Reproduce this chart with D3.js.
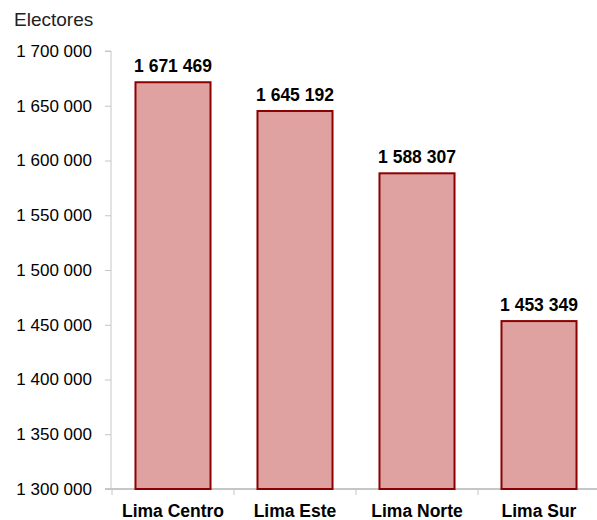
<!DOCTYPE html>
<html>
<head>
<meta charset="utf-8">
<script src="https://cdn.jsdelivr.net/npm/d3@7"></script>
<style>
  body { margin: 0; background: #fff; }
  svg { display: block; font-family: "Liberation Sans", Arial, sans-serif; }
</style>
</head>
<body>
<div id="chart"></div>
<script>
// Electores por zona de Lima
const categories = ['Lima Centro', 'Lima Este', 'Lima Norte', 'Lima Sur'];
const values = [1671469, 1645192, 1588307, 1453349];
const yTicks = [1300000, 1350000, 1400000, 1450000, 1500000, 1550000, 1600000, 1650000, 1700000];

const W = 597, H = 520;
const fmt = v => d3.format(',')(v).replace(/,/g, ' ');

const svg = d3.select('#chart').append('svg')
  .attr('width', W).attr('height', H);

const x = d3.scaleBand()
  .domain(categories)
  .range([112, 600])
  .paddingInner(0.385)
  .paddingOuter(0.1925);

const y = d3.scaleLinear()
  .domain([1300000, 1700000])
  .range([489, 51]);

// Y axis
const yAxis = svg.append('g')
  .attr('transform', 'translate(111,0)')
  .call(d3.axisLeft(y).tickValues(yTicks).tickSize(6).tickPadding(13).tickFormat(fmt));
yAxis.select('.domain').attr('stroke', '#c6c6c6').attr('d', 'M-6,51H0V489');
yAxis.selectAll('.tick line').attr('stroke', '#c6c6c6');
yAxis.selectAll('.tick text')
  .style('font-size', '17px')
  .attr('fill', '#000');

// X axis line and band separators
const xAxis = svg.append('g').attr('transform', 'translate(0,489)');
xAxis.append('line')
  .attr('x1', 105).attr('x2', 600)
  .attr('stroke', '#c6c6c6').attr('stroke-width', 2);
xAxis.selectAll('.sep')
  .data(categories)
  .enter().append('line')
  .attr('x1', (d, i) => 112 + i * x.step())
  .attr('x2', (d, i) => 112 + i * x.step())
  .attr('y1', 0).attr('y2', 6)
  .attr('stroke', '#c6c6c6');

xAxis.selectAll('.cat')
  .data(categories)
  .enter().append('text')
  .attr('x', d => x(d) + x.bandwidth() / 2)
  .attr('y', 28)
  .attr('text-anchor', 'middle')
  .style('font-size', '17.5px')
  .style('font-weight', 'bold')
  .text(d => d);

// Bars
svg.selectAll('.bar')
  .data(values)
  .enter().append('rect')
  .attr('x', (d, i) => x(categories[i]))
  .attr('y', d => y(d))
  .attr('width', x.bandwidth())
  .attr('height', d => y(1300000) - y(d))
  .attr('fill', '#e0a1a1')
  .attr('stroke', '#8b0000')
  .attr('stroke-width', 2);

// Value labels
svg.selectAll('.val')
  .data(values)
  .enter().append('text')
  .attr('x', (d, i) => x(categories[i]) + x.bandwidth() / 2)
  .attr('y', d => y(d) - 10)
  .attr('text-anchor', 'middle')
  .style('font-size', '17.5px')
  .style('font-weight', 'bold')
  .text(d => fmt(d));

// Title
svg.append('text')
  .attr('x', 14).attr('y', 26)
  .style('font-size', '19px')
  .attr('fill', '#222')
  .text('Electores');
</script>
</body>
</html>
